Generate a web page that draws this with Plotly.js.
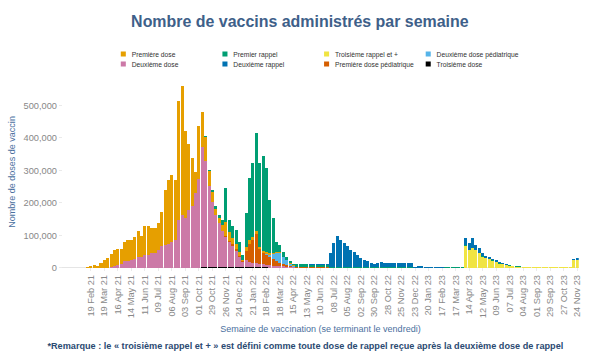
<!DOCTYPE html>
<html>
<head>
<meta charset="utf-8">
<script src="https://cdn.plot.ly/plotly-3.0.1.min.js"></script>
<style>
html,body{margin:0;padding:0;overflow:hidden;background:#fff;width:600px;height:357px;}
#wrap{width:1428px;height:850px;transform:scale(0.42);transform-origin:0 0;}
#chart{width:1428px;height:850px;}
</style>
</head>
<body>
<div id="wrap"><div id="chart"></div></div>
<script>
// Weekly values in thousands of doses, week ending Friday, first week = 25 Dec 2020
const firstWeekEnding = '2020-12-25';

const premiereDoseK = [0,0,
 0,0,0,0.5,1,2,6,9,7,14,
 25,30,40,50,50,46,61,64,61,69,
 81,64,90,90,77,77,84,107,170,196,
 206,185,364,397,266,202,149,64,164,108,
 73,46,30,18,15,20,45,25,20,18,
 12,6,10,12,10,10,8,6,5,4,
 3,3,2,2,2,1,1,1,1,1,
 1,1,1,1,1,1,1,0.5,0.5,0.5,
 0.5,0.5,0.5,0.5,0.5,0.5,0.5,0.5,0.5,0.5,
 0,0,0,0,0,0,0,0,0,0,
 0,0,0,0,0,0,0,0,0,0,
 0,0,0,0,0,0,0,0,0,0,
 0,0,0,0,0,0,0,0,0,0,
 0,0,0,0,0,0,0,0,0,0,
 0,0,0,0,0,0,0,0,0,0,
 0];

const deuxiemeDoseK = [0,0,
 0,0,0,0,0,0,0,0,0,0,
 0,0,3,5,8,12,20,22,25,27,
 34,34,40,40,45,45,55,66,70,75,
 80,86,148,163,154,178,189,231,271,369,
 327,250,200,160,135,110,92,77,66,50,
 31,15,20,15,12,12,10,9,8,7,
 6,6,5,5,4,3,2,1,1,1,
 1,1,1,1,1,1,1,0.5,0.5,0.5,
 0.5,0.5,0.5,0.5,0.5,0.5,0.5,0.5,0.5,0.5,
 0,0,0,0,0,0,0,0,0,0,
 0,0,0,0,0,0,0,0,0,0,
 0,0,0,0,0,0,0,0,0,0,
 0,0,0,0,0,0,0,0,0,0,
 0,0,0,0,0,0,0,0,0,0,
 0,0,0,0,0,0,0,0,0,0,
 0];

const premierRappelK = [0,0,
 0,0,0,0,0,0,0,0,0,0,
 0,0,0,0,0,0,0,0,0,0,
 0,0,0,0,0,0,0,0,0,0,
 0,0,0,0,0,0,0,0,0,0,
 2,3,7,8,10,15,104,39,37,42,
 30,14,106,190,228,301,258,293,259,164,
 108,31,23,15,10,6,4,8,7,7,
 7,6,6,6,5,5,4,3,3,3,
 3,3,3,3,3,3,3,3,3,3,
 3,3,3,3,3,3,3,3,3,3,
 3,3,1,1,1,1,1,1,1,1,
 1,1,1,1,1,1,1,1,1,1,
 1,1,1,1,1,1,1,1,1,1,
 1,1,1,1,1,1,1,1,1,1,
 1,1,1,1,1,1,1,1,1,1,
 1];

const deuxiemeRappelK = [0,0,
 0,0,0,0,0,0,0,0,0,0,
 0,0,0,0,0,0,0,0,0,0,
 0,0,0,0,0,0,0,0,0,0,
 0,0,0,0,0,0,0,0,0,0,
 0,0,0,0,0,0,0,0,0,0,
 0,0,0,0,0,0,0,0,0,0,
 0,0,0,0,0,0,0,0,0,0,
 1,1,1,2,2,2,3,42,72,95,
 83,73,63,52,44,37,28,22,18,11,
 10,13,14,12,13,12,12,11,12,12,
 12,11,2,4,5,2,1,1,1,1,
 1,1,1,1,1,1,1,21,20,30,
 15,13,9,7,7,5,4,3,2,2,
 1,1,1,0.5,0.5,0.5,0.5,0.5,0.5,0.5,
 0.5,0.5,0.5,0.5,0.5,0.5,0.5,0.5,0.5,3,
 4];

const troisiemeRappelK = [0,0,
 0,0,0,0,0,0,0,0,0,0,
 0,0,0,0,0,0,0,0,0,0,
 0,0,0,0,0,0,0,0,0,0,
 0,0,0,0,0,0,0,0,0,0,
 0,0,0,0,0,0,0,0,0,0,
 0,0,0,0,0,0,0,0,0,0,
 0,0,0,0,0,0,0,0,0,0,
 0,0,0,0,0,0,0,0,0,0,
 0,0,0,0,0,0,0,0,0,0,
 0,0,0,0,0,0,0,0,0,0,
 0,0,0,0,0,0,0,0,0,0,
 0,0.5,0.5,0.5,0.5,0.5,0.5,69,55,60,
 55,46,35,30,27,22,18,13,11,8,
 7,5,4,4,2,2,2,2,2,2,
 2,2,2,2,2,2,2,2,2,23,
 25];

const premiereDosePedK = [0,0,
 0,0,0,0,0,0,0,0,0,0,
 0,0,0,0,0,0,0,0,0,0,
 0,0,0,0,0,0,0,0,0,0,
 0,0,0,0,0,0,0,0,0,0,
 0,0,0,0,0,0,2,4,4,4,
 4,3,30,55,70,90,45,35,30,25,
 20,15,10,6,4,3,2,1,1,1,
 1,1,1,1,1,1,1,0,0,0,
 0,0,0,0,0,0,0,0,0,0,
 0,0,0,0,0,0,0,0,0,0,
 0,0,0,0,0,0,0,0,0,0,
 0,0,0,0,0,0,0,0,0,0,
 0,0,0,0,0,0,0,0,0,0,
 0,0,0,0,0,0,0,0,0,0,
 0,0,0,0,0,0,0,0,0,0,
 0];

const deuxiemeDosePedK = [0,0,
 0,0,0,0,0,0,0,0,0,0,
 0,0,0,0,0,0,0,0,0,0,
 0,0,0,0,0,0,0,0,0,0,
 0,0,0,0,0,0,0,0,0,0,
 0,0,0,0,0,0,0,0,0,0,
 0,0,0,0,0,0,0,0,3,8,
 15,25,30,22,15,7,3,1,1,1,
 1,1,1,1,1,1,1,0,0,0,
 0,0,0,0,0,0,0,0,0,0,
 0,0,0,0,0,0,0,0,0,0,
 0,0,0,0,0,0,0,0,0,0,
 0,0,0,0,0,0,0,0,0,0,
 0,0,0,0,0,0,0,0,0,0,
 0,0,0,0,0,0,0,0,0,0,
 0,0,0,0,0,0,0,0,0,0,
 0];

const troisiemeDoseK = [0,0,
 0,0,0,0,0,0,0,0,0,0,
 0,0,0,0,0,0,0,0,0,0,
 0,0,0,0,0,0,0,0,0,0,
 0,0,0,0,0,0,0,0,1,2,
 3,3,3,3,3,3,3,3,3,3,
 3,2,3,3,3,3,2,2,2,1,
 1,1,1,0,0,0,0,0,0,0,
 0,0,0,0,0,0,0,0,0,0,
 0,0,0,0,0,0,0,0,0,0,
 0,0,0,0,0,0,0,0,0,0,
 0,0,0,0,0,0,0,0,0,0,
 0,0,0,0,0,0,0,0,0,0,
 0,0,0,0,0,0,0,0,0,0,
 0,0,0,0,0,0,0,0,0,0,
 0,0,0,0,0,0,0,0,0,0,
 0];

const seriesNames = {
  premiere: 'Première dose', deuxieme: 'Deuxième dose',
  premierRappel: 'Premier rappel', deuxiemeRappel: 'Deuxième rappel',
  troisiemeRappel: 'Troisième rappel et +', ped1: 'Première dose pédiatrique',
  ped2: 'Deuxième dose pédiatrique', troisiemeDose: 'Troisième dose'
};

// week-ending dates (categories)
const N = premiereDoseK.length;
const weekEnding = [];
const t0 = Date.parse(firstWeekEnding + 'T00:00:00Z');
for (let i = 0; i < N; i++) weekEnding.push(new Date(t0 + i * 7 * 86400000).toISOString().slice(0, 10));
// tick every 4 weeks from 19 Feb 21
const tickDates = weekEnding.filter((d, i) => i >= 8 && (i - 8) % 4 === 0);

[deuxiemeDoseK, premierRappelK, deuxiemeRappelK, troisiemeRappelK, premiereDosePedK, deuxiemeDosePedK, troisiemeDoseK]
  .forEach((a, k) => { if (a.length !== N) console.warn('length mismatch', k, a.length, N); });

const doses = a => a.map(v => v * 1000);

function bar(name, vals, color, legend, rank) {
  return {type: 'bar', name: name, x: weekEnding, y: doses(vals), marker: {color: color, line: {width: 0}},
          legend: legend, legendrank: rank, hoverinfo: 'x+y+name'};
}

const data = [
  bar(seriesNames.troisiemeDose, troisiemeDoseK, '#000000', 'legend2', 4),
  bar(seriesNames.deuxieme, deuxiemeDoseK, '#CC79A7', 'legend2', 1),
  bar(seriesNames.ped1, premiereDosePedK, '#D55E00', 'legend2', 3),
  bar(seriesNames.ped2, deuxiemeDosePedK, '#56B4E9', 'legend', 4),
  bar(seriesNames.premiere, premiereDoseK, '#E69F00', 'legend', 1),
  bar(seriesNames.troisiemeRappel, troisiemeRappelK, '#F0E442', 'legend', 3),
  bar(seriesNames.premierRappel, premierRappelK, '#009E73', 'legend', 2),
  bar(seriesNames.deuxiemeRappel, deuxiemeRappelK, '#0072B2', 'legend2', 2)
];

const FONT = '"Liberation Sans", Arial, Helvetica, sans-serif';
const legendCommon = {orientation: 'h', xanchor: 'left', x: 0.1021, yanchor: 'top',
  entrywidth: 197, entrywidthmode: 'pixels', traceorder: 'normal',
  font: {family: FONT, size: 16, color: '#333333'}, bgcolor: 'rgba(0,0,0,0)'};

const layout = {
  width: 1428, height: 850,
  margin: {l: 148, r: 50, t: 181, b: 212},
  paper_bgcolor: '#ffffff', plot_bgcolor: '#ffffff',
  barmode: 'stack', bargap: 0.1,
  font: {family: FONT},
  title: {text: '<b>Nombre de vaccins administrés par semaine</b>', x: 0.5, xanchor: 'center',
          y: 0.941, yanchor: 'middle', yref: 'container',
          font: {family: FONT, size: 38, color: '#3e6089'}},
  showlegend: true,
  legend: Object.assign({}, legendCommon, {y: 1.1516}),
  legend2: Object.assign({}, legendCommon, {y: 1.0996}),
  xaxis: {
    type: 'date',
    range: ['2020-12-21 12:00', '2023-11-27 12:00'],
    tickmode: 'array', tickvals: tickDates, tickformat: '%d %b %y',
    tickangle: -90, ticks: 'outside', ticklen: 7, tickcolor: '#cccccc',
    tickfont: {family: FONT, size: 22, color: '#888888'},
    showgrid: false, zeroline: false, showline: false,
    title: {text: 'Semaine de vaccination (se terminant le vendredi)', standoff: 18,
            font: {family: FONT, size: 21.5, color: '#4a6f9e'}}
  },
  yaxis: {
    range: [0, 590000], tickvals: [0, 100000, 200000, 300000, 400000, 500000], tickformat: ',',
    ticks: 'outside', ticklen: 7, tickcolor: '#cccccc',
    tickfont: {family: FONT, size: 22, color: '#888888'},
    showgrid: false, zeroline: true, zerolinecolor: '#d6d6d6', zerolinewidth: 1.5, showline: false,
    title: {text: 'Nombre de doses de vaccin', standoff: 13,
            font: {family: FONT, size: 21.5, color: '#4a6f9e'}}
  },
  annotations: [{
    text: '<b>*Remarque : le « troisième rappel et + » est défini comme toute dose de rappel reçue après la deuxième dose de rappel</b>',
    xref: 'paper', yref: 'paper', x: 0.4707, y: -0.407, xanchor: 'center', yanchor: 'middle',
    showarrow: false, font: {family: FONT, size: 21.8, color: '#2b4a72'}
  }]
};

Plotly.newPlot('chart', data, layout, {displayModeBar: false, staticPlot: true});
</script>
</body>
</html>
